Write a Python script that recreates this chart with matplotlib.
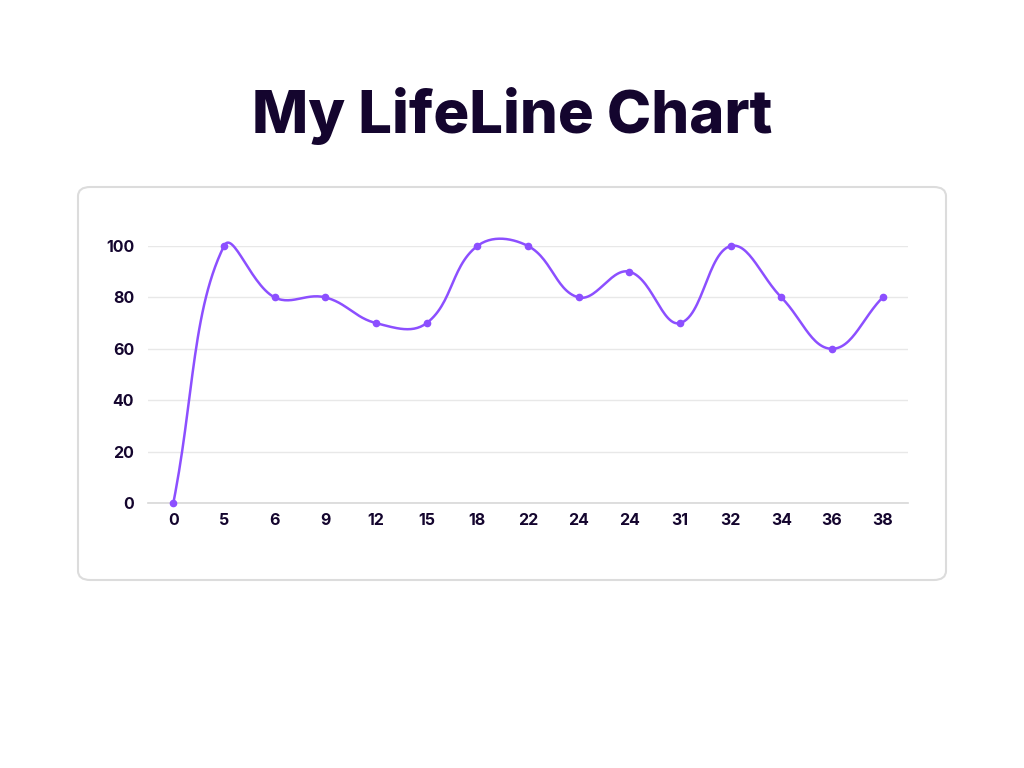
import matplotlib
matplotlib.use("Agg")
import matplotlib.pyplot as plt
from matplotlib.patches import FancyBboxPatch
import numpy as np

ages = ["0", "5", "6", "9", "12", "15", "18", "22", "24", "24", "31", "32", "34", "36", "38"]
scores = [0, 100, 80, 80, 70, 70, 100, 100, 80, 90, 70, 100, 80, 60, 80]
y_ticks = [0, 20, 40, 60, 80, 100]

line_color = "#8c4fff"
text_color = "#14052e"


def smooth(xs, ys, sx, sy, tension=0.4, n=30):
    # chart.js style spline, control points computed in pixel space
    px = np.asarray(xs, float) * sx
    py = np.asarray(ys, float) * sy
    m = len(px)
    cps = []
    for i in range(m):
        p0 = (px[max(i - 1, 0)], py[max(i - 1, 0)])
        p1 = (px[i], py[i])
        p2 = (px[min(i + 1, m - 1)], py[min(i + 1, m - 1)])
        d01 = np.hypot(p1[0] - p0[0], p1[1] - p0[1])
        d12 = np.hypot(p2[0] - p1[0], p2[1] - p1[1])
        tot = d01 + d12
        fa = tension * d01 / tot if tot else 0
        fb = tension * d12 / tot if tot else 0
        prev = (p1[0] - fa * (p2[0] - p0[0]), p1[1] - fa * (p2[1] - p0[1]))
        nxt = (p1[0] + fb * (p2[0] - p0[0]), p1[1] + fb * (p2[1] - p0[1]))
        cps.append((prev, nxt))
    out_x, out_y = [px[0]], [py[0]]
    t = np.linspace(0, 1, n)[1:]
    for i in range(m - 1):
        a = (px[i], py[i])
        b = cps[i][1]
        c = cps[i + 1][0]
        d = (px[i + 1], py[i + 1])
        bx = (1 - t) ** 3 * a[0] + 3 * (1 - t) ** 2 * t * b[0] + 3 * (1 - t) * t ** 2 * c[0] + t ** 3 * d[0]
        by = (1 - t) ** 3 * a[1] + 3 * (1 - t) ** 2 * t * b[1] + 3 * (1 - t) * t ** 2 * c[1] + t ** 3 * d[1]
        out_x.extend(bx)
        out_y.extend(by)
    return np.array(out_x) / sx, np.array(out_y) / sy


fig = plt.figure(figsize=(10.24, 7.68), dpi=100)
fig.patch.set_facecolor("white")

# rounded panel
panel = FancyBboxPatch((78 / 1024, (768 - 580) / 768), (946 - 78) / 1024, (580 - 187) / 768,
                       boxstyle="round,pad=0,rounding_size=0.012",
                       transform=fig.transFigure, facecolor="none",
                       edgecolor="#dcdcdc", linewidth=1.5, zorder=-1)
fig.patches.append(panel)

fig.text(0.5, (768 - 116) / 768, "My LifeLine Chart", ha="center", va="center",
         fontsize=43, fontweight="heavy", color=text_color, family=["Inter", "DejaVu Sans"])

ax = fig.add_axes([148 / 1024, (768 - 503) / 768, 760 / 1024, 257 / 768])
ax.set_facecolor("none")

x = np.arange(len(scores))
sx_, sy_ = smooth(x, scores, 50.7, 2.57)
ax.plot(sx_, sy_, color=line_color, linewidth=1.8, clip_on=False, zorder=3)
ax.plot(x, scores, "o", color=line_color, markersize=4.5, clip_on=False, zorder=4)

ax.set_xlim(-0.5, len(scores) - 0.5)
ax.set_ylim(0, 100)
ax.set_xticks(x)
ax.set_xticklabels(ages)
ax.set_yticks(y_ticks)
ax.grid(axis="y", color="#e8e8e8", linewidth=1)
ax.set_axisbelow(True)
for s in ["top", "right", "left"]:
    ax.spines[s].set_visible(False)
ax.spines["bottom"].set_color("#d8d8d8")
ax.spines["bottom"].set_linewidth(1.2)
ax.tick_params(length=0, labelsize=11.5, labelcolor=text_color, pad=7)
for lab in ax.get_xticklabels() + ax.get_yticklabels():
    lab.set_fontweight("bold")
    lab.set_family(["Inter", "DejaVu Sans"])
ax.tick_params(axis="y", pad=10)

fig.savefig("out.png", dpi=100)
